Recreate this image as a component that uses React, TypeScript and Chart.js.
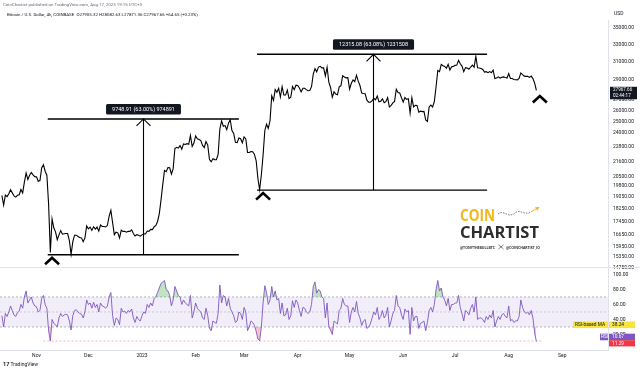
import React, { useEffect, useRef } from 'react';
import { Chart, registerables } from 'chart.js';

Chart.register(...registerables);

// ---- time axis: days counted from 2023-01-01 ----
const START_DAY = -81; // 2022-10-12, first daily value
const X_MIN = -82.1;
const X_MAX = 269.4;
const MONTH_DAYS = [-61, -31, 0, 31, 59, 90, 120, 151, 181, 212, 243];
const MONTH_LABELS = ['Nov', 'Dec', '2023', 'Feb', 'Mar', 'Apr', 'May', 'Jun', 'Jul', 'Aug', 'Sep'];

// ---- BTC/USD daily values ----
const PRICE_2022_10 = [19150, 18500, 19180, 19070, 19270, 19550, 19330, 19120, 19040, 19160, 19200, 19570, 19330, 20090, 20770, 20290, 20600, 20810, 20630, 20490];
const PRICE_2022_11 = [20480, 20160, 20210, 21150, 21400, 20900, 20600, 18550, 15600, 17600, 17050, 16800, 16330, 16620, 16880, 16660, 16690, 16700, 16700, 16280, 15500, 16220, 16600, 16600, 16520, 16460, 16440, 16220, 16440, 17160];
const PRICE_2022_12 = [16980, 17090, 16890, 17110, 16970, 17090, 16840, 17220, 17130, 17130, 17100, 17200, 17780, 18150, 17360, 16630, 16780, 16740, 16440, 16900, 16820, 16830, 16780, 16840, 16830, 16920, 16700, 16550, 16630, 16600, 16540];
const PRICE_2023_01 = [16620, 16680, 16670, 16850, 16830, 16950, 16940, 17100, 17190, 17440, 17940, 18850, 19930, 20950, 20870, 21170, 21160, 20690, 21080, 22680, 22780, 22710, 22920, 22620, 23060, 23010, 23080, 23030, 23770, 22840, 23130];
const PRICE_2023_02 = [23730, 23490, 23430, 23330, 22930, 22760, 23260, 22960, 21800, 21630, 21860, 21790, 21780, 22200, 24330, 25050, 24570, 24630, 24280, 24840, 25150, 24190, 23950, 23190, 23160, 23550, 23490, 23150];
const PRICE_2023_03 = [23650, 23470, 22360, 22350, 22430, 22410, 22200, 21700, 20360, 19550, 20630, 22160, 24200, 24750, 24380, 25060, 27420, 26970, 28040, 27770, 28170, 27300, 28330, 27490, 27490, 27990, 27140, 27270, 28350, 28030, 28480];
const PRICE_2023_04 = [28450, 28200, 27800, 28170, 28170, 28030, 27920, 27950, 28330, 29650, 30230, 29890, 30400, 30490, 30320, 30320, 29450, 30390, 28800, 28250, 27270, 27820, 27590, 27520, 28310, 28420, 29470, 29340, 29250, 29270];
const PRICE_2023_05 = [28080, 28680, 29030, 28850, 29530, 28900, 28450, 27690, 27650, 27620, 26990, 26800, 26790, 26920, 27170, 27030, 27400, 26830, 26890, 27120, 26750, 26850, 27230, 26330, 26480, 26720, 26870, 28070, 27740, 27700, 27220];
const PRICE_2023_06 = [26820, 27250, 27070, 27120, 25760, 27240, 26350, 26500, 26480, 25850, 25940, 25900, 25920, 25130, 25000, 26340, 26510, 26340, 26850, 28330, 30030, 29910, 30700, 30550, 30480, 30270, 30700, 30090, 30450, 30480];
const PRICE_2023_07 = [30590, 30620, 31150, 30770, 30510, 29900, 30350, 30290, 30170, 30410, 30620, 30390, 31600, 30330, 30300, 30250, 30150, 29860, 29910, 29800, 29910, 29800, 30080, 29180, 29230, 29350, 29220, 29310, 29350, 29280, 29230];
const PRICE_2023_08 = [29700, 29180, 29180, 29080, 29050, 29040, 29180, 29770, 29580, 29430, 29400, 29420, 29300, 29430, 29170, 28700, 27970];

// ---- RSI daily values ----
const RSI_2022_10 = [45, 30, 48, 44, 50, 58, 52, 46, 44, 49, 51, 60, 55, 70, 78, 62, 66, 70, 62, 58];
const RSI_2022_11 = [57, 50, 52, 68, 72, 60, 55, 25, 11.3, 40, 35, 33, 30, 42, 48, 44, 46, 47, 46, 38, 26, 45, 52, 53, 50, 48, 47, 42, 50, 66];
const RSI_2022_12 = [60, 62, 55, 63, 56, 60, 50, 62, 58, 57, 55, 58, 70, 76, 45, 32, 42, 40, 33, 55, 50, 51, 48, 52, 50, 54, 42, 36, 44, 40, 38];
const RSI_2023_01 = [45, 50, 48, 60, 56, 62, 58, 68, 70, 76, 82, 88, 90, 92, 80, 78, 72, 58, 66, 84, 78, 72, 70, 60, 66, 62, 60, 58, 72, 42, 50];
const RSI_2023_02 = [62, 55, 52, 50, 42, 40, 55, 45, 28, 25, 38, 36, 35, 48, 86, 62, 72, 70, 58, 68, 55, 50, 45, 36, 38, 50, 48, 40];
const RSI_2023_03 = [56, 50, 25, 30, 38, 36, 32, 24, 14, 11.6, 30, 62, 85, 76, 60, 66, 84, 70, 78, 66, 68, 48, 62, 45, 46, 55, 40, 45, 65, 56, 66];
const RSI_2023_04 = [62, 52, 44, 56, 55, 50, 48, 50, 60, 84, 90, 75, 80, 78, 70, 68, 42, 62, 30, 26, 20, 38, 36, 34, 52, 55, 68, 60, 58, 58];
const RSI_2023_05 = [36, 50, 56, 50, 64, 48, 42, 32, 38, 40, 28, 30, 34, 42, 50, 46, 56, 40, 44, 52, 42, 46, 56, 30, 38, 48, 52, 72, 58, 56, 46];
const RSI_2023_06 = [40, 54, 50, 52, 20, 56, 38, 44, 44, 28, 35, 36, 38, 25, 36, 52, 56, 50, 60, 80, 92, 78, 82, 70, 66, 58, 68, 52, 60, 60];
const RSI_2023_07 = [62, 62, 72, 56, 48, 38, 52, 50, 46, 55, 60, 50, 70, 40, 42, 42, 40, 36, 44, 40, 46, 42, 52, 30, 38, 44, 40, 46, 48, 44, 42];
const RSI_2023_08 = [58, 38, 40, 36, 38, 38, 44, 66, 56, 50, 48, 50, 46, 52, 42, 22, 10.67];

// ---- axes ----
const PRICE_TICKS = [14750, 15350, 15950, 16650, 17450, 18250, 19050, 19800, 20500, 21600, 22800, 24000, 25000, 26000, 27000, 29000, 31000, 33000, 35000];
const PRICE_MIN = 14750;
const PRICE_MAX = 36020;
const RSI_TICKS = [20, 40, 60, 80, 100];
const RSI_MIN = -0.7;
const RSI_MAX = 108.6;
const RSI_BAND = [30, 70];
const RSI_LEVELS = [70, 50, 30];

// ---- drawings (measure tool) ----
const RANGE_FROM = [-54.5, 66.5];
const RANGE_TO = [56, 199.5];
const RANGE_AT = [0.6, 133.5];
const RANGE_LOW = [15474.0, 19522.5];
const RANGE_HIGH = [25222.9, 31837.6];
const RANGE_TEXT = ['9748.91 (63.00%) 974891', '12315.08 (63.08%) 1231508'];
const MARK_DAY = [-52, 70, 230];
const MARK_PRICE = [15474, 19523, 27700];

const LAST_PRICE = 27967.66;
const COUNTDOWN = '02:44:17';
const RSI_LAST = 10.67;
const RSI_MA_LAST = 38.24;
const RSI_LINE_LEVEL = 11.29;
const RSI_LINE_FROM = -57;
const RSI_LINE_TO = 232;

const HEADER_1 = 'CoinChartist published on TradingView.com, Aug 17, 2023 19:15 UTC+3';
const HEADER_2 = 'Bitcoin / U.S. Dollar, 4h, COINBASE  O27905.32 H28082.63 L27871.36 C27967.66 +64.65 (+0.23%)';

const AXIS_W = 32;
const FONT = 'Roboto, "Noto Sans", sans-serif';

const PRICE = ([] as number[]).concat(PRICE_2022_10, PRICE_2022_11, PRICE_2022_12, PRICE_2023_01, PRICE_2023_02, PRICE_2023_03, PRICE_2023_04, PRICE_2023_05, PRICE_2023_06, PRICE_2023_07, PRICE_2023_08);
const RSI = ([] as number[]).concat(RSI_2022_10, RSI_2022_11, RSI_2022_12, RSI_2023_01, RSI_2023_02, RSI_2023_03, RSI_2023_04, RSI_2023_05, RSI_2023_06, RSI_2023_07, RSI_2023_08);

function daily(values: number[]) {
  return values.map((v, i) => ({ x: START_DAY + i, y: v }));
}

function fitText(ctx: CanvasRenderingContext2D, text: string, x: number, yBase: number, font: string, width: number, color: string) {
  ctx.save();
  ctx.font = font;
  const m = ctx.measureText(text).width;
  ctx.translate(x, yBase);
  ctx.scale(width / m, 1);
  ctx.fillStyle = color;
  ctx.textAlign = 'left';
  ctx.textBaseline = 'alphabetic';
  ctx.fillText(text, 0, 0);
  ctx.restore();
}

function drawLogo(ctx: CanvasRenderingContext2D) {
  fitText(ctx, 'COIN', 460, 221, 'bold 16.5px "Open Sans"', 35, '#f2b61e');
  fitText(ctx, 'CHARTIST', 460, 238, 'bold 16.8px "Open Sans"', 79, '#2e2e2e');
  fitText(ctx, '@TONYTHEBULLBTC', 460, 248.5, 'bold 4px "Open Sans"', 35, '#2e2e2e');
  fitText(ctx, '@COINCHARTIST_IO', 506, 248.5, 'bold 4px "Open Sans"', 34, '#2e2e2e');
  ctx.save();
  ctx.strokeStyle = '#2e2e2e';
  ctx.lineWidth = 0.6;
  ctx.beginPath();
  ctx.moveTo(498.5, 244.8); ctx.lineTo(503.5, 249);
  ctx.moveTo(503.5, 244.8); ctx.lineTo(498.5, 249);
  ctx.stroke();
  // squiggle
  ctx.setLineDash([1.5, 1.2]);
  ctx.lineWidth = 0.8;
  ctx.strokeStyle = '#555';
  ctx.beginPath();
  ctx.moveTo(498, 214);
  ctx.bezierCurveTo(504, 209, 508, 219, 515, 213);
  ctx.bezierCurveTo(520, 208.5, 524, 216, 531, 212);
  ctx.stroke();
  ctx.setLineDash([]);
  ctx.strokeStyle = '#f2b61e';
  ctx.lineWidth = 1;
  ctx.beginPath();
  ctx.moveTo(531, 212); ctx.lineTo(537, 208.5);
  ctx.stroke();
  ctx.fillStyle = '#f2b61e';
  ctx.beginPath();
  ctx.moveTo(539.5, 207); ctx.lineTo(535, 207.3); ctx.lineTo(537.2, 210.8);
  ctx.closePath();
  ctx.fill();
  ctx.restore();
}

function roundRect(ctx: CanvasRenderingContext2D, x: number, y: number, w: number, h: number, r: number) {
  ctx.beginPath();
  ctx.moveTo(x + r, y);
  ctx.lineTo(x + w - r, y);
  ctx.quadraticCurveTo(x + w, y, x + w, y + r);
  ctx.lineTo(x + w, y + h - r);
  ctx.quadraticCurveTo(x + w, y + h, x + w - r, y + h);
  ctx.lineTo(x + r, y + h);
  ctx.quadraticCurveTo(x, y + h, x, y + h - r);
  ctx.lineTo(x, y + r);
  ctx.quadraticCurveTo(x, y, x + r, y);
  ctx.closePath();
}

const priceDeco = {
  id: 'priceDeco',
  afterDatasetsDraw(chart: any) {
    const ctx: CanvasRenderingContext2D = chart.ctx;
    const xs = chart.scales.x;
    const ys = chart.scales.y;
    ctx.save();
    ctx.strokeStyle = '#000';
    ctx.lineCap = 'butt';
    for (let i = 0; i < RANGE_AT.length; i++) {
      const x0 = xs.getPixelForValue(RANGE_FROM[i]);
      const x1 = xs.getPixelForValue(RANGE_TO[i]);
      const xm = Math.round(xs.getPixelForValue(RANGE_AT[i])) + 0.5;
      const yl = ys.getPixelForValue(RANGE_LOW[i]);
      const yh = ys.getPixelForValue(RANGE_HIGH[i]);
      ctx.lineWidth = 1.4;
      ctx.beginPath();
      ctx.moveTo(x0, yh); ctx.lineTo(x1, yh);
      ctx.moveTo(x0, yl); ctx.lineTo(x1, yl);
      ctx.stroke();
      ctx.lineWidth = 1.1;
      ctx.beginPath();
      ctx.moveTo(xm, yl); ctx.lineTo(xm, yh);
      ctx.stroke();
      ctx.beginPath();
      ctx.moveTo(xm - 7, yh + 7); ctx.lineTo(xm, yh); ctx.lineTo(xm + 7, yh + 7);
      ctx.stroke();
      ctx.font = `5.5px ${FONT}`;
      const w = ctx.measureText(RANGE_TEXT[i]).width + 12;
      const h = 10.5;
      const by = yh - 4.5 - h;
      ctx.fillStyle = '#131722';
      roundRect(ctx, xm - w / 2, by, w, h, 1.5);
      ctx.fill();
      ctx.fillStyle = '#ffffff';
      ctx.textAlign = 'center';
      ctx.textBaseline = 'middle';
      ctx.fillText(RANGE_TEXT[i], xm, by + h / 2 + 0.3);
    }
    ctx.lineWidth = 2.6;
    ctx.lineJoin = 'miter';
    for (let i = 0; i < MARK_DAY.length; i++) {
      const cx = xs.getPixelForValue(MARK_DAY[i]);
      const ay = ys.getPixelForValue(MARK_PRICE[i]) + 3;
      ctx.beginPath();
      ctx.moveTo(cx - 7, ay + 6.5); ctx.lineTo(cx, ay); ctx.lineTo(cx + 7, ay + 6.5);
      ctx.stroke();
    }
    ctx.restore();
  },
  afterDraw(chart: any) {
    const ctx: CanvasRenderingContext2D = chart.ctx;
    const a = chart.chartArea;
    const ys = chart.scales.y;
    ctx.save();
    ctx.textAlign = 'left';
    ctx.textBaseline = 'middle';
    ctx.font = `4.4px ${FONT}`;
    ctx.fillStyle = '#6a6d78';
    ctx.fillText(HEADER_1, 3, 5);
    ctx.fillStyle = '#131722';
    ctx.fillText(HEADER_2, 7, 15);
    ctx.font = `5px ${FONT}`;
    ctx.fillText('USD', a.right + 6, 14);
    const py = ys.getPixelForValue(LAST_PRICE);
    ctx.fillStyle = '#131722';
    ctx.fillRect(a.right + 2, py - 3.5, 27, 12.5);
    ctx.fillStyle = '#ffffff';
    ctx.font = `4.6px ${FONT}`;
    ctx.fillText(LAST_PRICE.toFixed(2), a.right + 5, py);
    ctx.fillText(COUNTDOWN, a.right + 5, py + 6);
    drawLogo(ctx);
    ctx.restore();
  },
};

const rsiDeco = {
  id: 'rsiDeco',
  beforeDatasetsDraw(chart: any) {
    const ctx: CanvasRenderingContext2D = chart.ctx;
    const a = chart.chartArea;
    const xs = chart.scales.x;
    const ys = chart.scales.y;
    ctx.save();
    const yTop = ys.getPixelForValue(RSI_BAND[1]);
    const yBot = ys.getPixelForValue(RSI_BAND[0]);
    ctx.fillStyle = 'rgba(126,87,194,0.1)';
    ctx.fillRect(a.left, yTop, a.right - a.left, yBot - yTop);
    ctx.setLineDash([2, 2]);
    ctx.lineWidth = 0.7;
    for (const lvl of RSI_LEVELS) {
      const yy = ys.getPixelForValue(lvl);
      ctx.strokeStyle = lvl === 50 ? 'rgba(120,123,134,0.45)' : '#9598a1';
      ctx.beginPath();
      ctx.moveTo(a.left, yy); ctx.lineTo(a.right, yy);
      ctx.stroke();
    }
    const yp = ys.getPixelForValue(RSI_LINE_LEVEL);
    ctx.strokeStyle = '#f48fb1';
    ctx.beginPath();
    ctx.moveTo(xs.getPixelForValue(RSI_LINE_FROM), yp);
    ctx.lineTo(xs.getPixelForValue(RSI_LINE_TO), yp);
    ctx.stroke();
    ctx.restore();
  },
  afterDraw(chart: any) {
    const ctx: CanvasRenderingContext2D = chart.ctx;
    const a = chart.chartArea;
    const ys = chart.scales.y;
    ctx.save();
    ctx.strokeStyle = '#e0e3eb';
    ctx.lineWidth = 1;
    ctx.beginPath();
    ctx.moveTo(0, a.top - 0.5); ctx.lineTo(640, a.top - 0.5);
    ctx.stroke();
    ctx.textBaseline = 'middle';
    ctx.textAlign = 'left';
    ctx.font = `4.8px ${FONT}`;
    // RSI-based MA label
    let yc = ys.getPixelForValue(RSI_MA_LAST) + 4;
    ctx.fillStyle = '#f7e43c';
    ctx.fillRect(a.right - 35, yc - 3.3, 35, 6.6);
    ctx.fillRect(a.right + 1, yc - 3.3, 26, 6.6);
    ctx.fillStyle = '#131722';
    ctx.fillText('RSI-based MA', a.right - 33, yc + 0.2);
    ctx.fillText(RSI_MA_LAST.toFixed(2), a.right + 4, yc + 0.2);
    // RSI label
    yc = ys.getPixelForValue(RSI_LAST) - 4.5;
    ctx.fillStyle = '#7e57c2';
    ctx.fillRect(a.right - 8, yc - 3.3, 8, 6.6);
    ctx.fillRect(a.right + 1, yc - 3.3, 26, 6.6);
    ctx.fillStyle = '#ffffff';
    ctx.fillText('RSI', a.right - 7, yc + 0.2);
    ctx.fillText(RSI_LAST.toFixed(2), a.right + 4, yc + 0.2);
    // horizontal line label
    yc = ys.getPixelForValue(RSI_LINE_LEVEL) + 2.3;
    ctx.fillStyle = '#f23645';
    ctx.fillRect(a.right + 1, yc - 3.1, 26, 6.2);
    ctx.fillStyle = '#ffffff';
    ctx.fillText(RSI_LINE_LEVEL.toFixed(2), a.right + 4, yc + 0.2);
    // TradingView mark
    ctx.fillStyle = '#131722';
    ctx.font = `bold 5.5px ${FONT}`;
    ctx.fillText('17', 3, 107);
    ctx.font = `5px ${FONT}`;
    ctx.fillText('TradingView', 10.5, 107);
    ctx.restore();
  },
};

export default function App() {
  const priceRef = useRef<HTMLCanvasElement | null>(null);
  const rsiRef = useRef<HTMLCanvasElement | null>(null);

  useEffect(() => {
    const tickFont = { family: FONT, size: 5 };
    const priceChart = new Chart(priceRef.current as HTMLCanvasElement, {
      type: 'line',
      data: {
        datasets: [
          { data: daily(PRICE), borderColor: '#000000', borderWidth: 1.1, pointRadius: 0, tension: 0, fill: false },
        ],
      },
      options: {
        animation: false,
        responsive: false,
        maintainAspectRatio: false,
        events: [],
        layout: { padding: { top: 20, bottom: 12, left: 0, right: 0 } },
        plugins: { legend: { display: false }, tooltip: { enabled: false } },
        scales: {
          x: { type: 'linear', min: X_MIN, max: X_MAX, bounds: 'data', display: false },
          y: {
            type: 'logarithmic',
            position: 'right',
            min: PRICE_MIN,
            max: PRICE_MAX,
            bounds: 'data',
            afterFit: (s: any) => { s.width = AXIS_W; },
            afterBuildTicks: (s: any) => { s.ticks = PRICE_TICKS.map((v) => ({ value: v })); },
            ticks: { autoSkip: false, padding: 5, color: '#131722', font: tickFont, callback: (v: any) => Number(v).toFixed(2) },
            grid: { display: false, drawTicks: false, tickLength: 0 },
            border: { display: true, color: '#e0e3eb', width: 1 },
          },
        },
      } as any,
      plugins: [priceDeco],
    } as any);

    const rsiChart = new Chart(rsiRef.current as HTMLCanvasElement, {
      type: 'line',
      data: {
        datasets: [
          {
            data: daily(RSI), borderColor: '#7e57c2', borderWidth: 0.9, pointRadius: 0, tension: 0,
            fill: { target: { value: RSI_BAND[1] }, above: 'rgba(76,175,80,0.35)', below: 'rgba(0,0,0,0)' },
          },
          {
            data: daily(RSI), borderColor: 'rgba(0,0,0,0)', borderWidth: 0, pointRadius: 0, tension: 0,
            fill: { target: { value: RSI_BAND[0] }, above: 'rgba(0,0,0,0)', below: 'rgba(242,54,69,0.3)' },
          },
        ],
      },
      options: {
        animation: false,
        responsive: false,
        maintainAspectRatio: false,
        events: [],
        layout: { padding: { top: 10, bottom: 0, left: 0, right: 0 } },
        plugins: { legend: { display: false }, tooltip: { enabled: false } },
        scales: {
          x: {
            type: 'linear', min: X_MIN, max: X_MAX, bounds: 'data', position: 'bottom',
            afterFit: (s: any) => { s.height = 20; },
            afterBuildTicks: (s: any) => { s.ticks = MONTH_DAYS.map((v) => ({ value: v })); },
            ticks: { autoSkip: false, maxRotation: 0, minRotation: 0, padding: 3, color: '#131722', font: tickFont, callback: (_v: any, i: number) => MONTH_LABELS[i] },
            grid: { display: false, drawTicks: false, tickLength: 0 },
            border: { display: true, color: '#e0e3eb', width: 1 },
          },
          y: {
            position: 'right', min: RSI_MIN, max: RSI_MAX, bounds: 'data',
            afterFit: (s: any) => { s.width = AXIS_W; },
            afterBuildTicks: (s: any) => { s.ticks = RSI_TICKS.map((v) => ({ value: v })); },
            ticks: { autoSkip: false, padding: 5, color: '#131722', font: tickFont, callback: (v: any) => Number(v).toFixed(2) },
            grid: { display: false, drawTicks: false, tickLength: 0 },
            border: { display: true, color: '#e0e3eb', width: 1 },
          },
        },
      } as any,
      plugins: [rsiDeco],
    } as any);

    return () => {
      priceChart.destroy();
      rsiChart.destroy();
    };
  }, []);

  return (
    <div style={{ position: 'fixed', left: 0, top: 0, width: 640, height: 370, background: '#ffffff', overflow: 'hidden' }}>
      <canvas ref={priceRef} width={640} height={280} style={{ position: 'absolute', left: 0, top: 0, width: 640, height: 280 }} />
      <canvas ref={rsiRef} width={640} height={112} style={{ position: 'absolute', left: 0, top: 258, width: 640, height: 112 }} />
    </div>
  );
}
